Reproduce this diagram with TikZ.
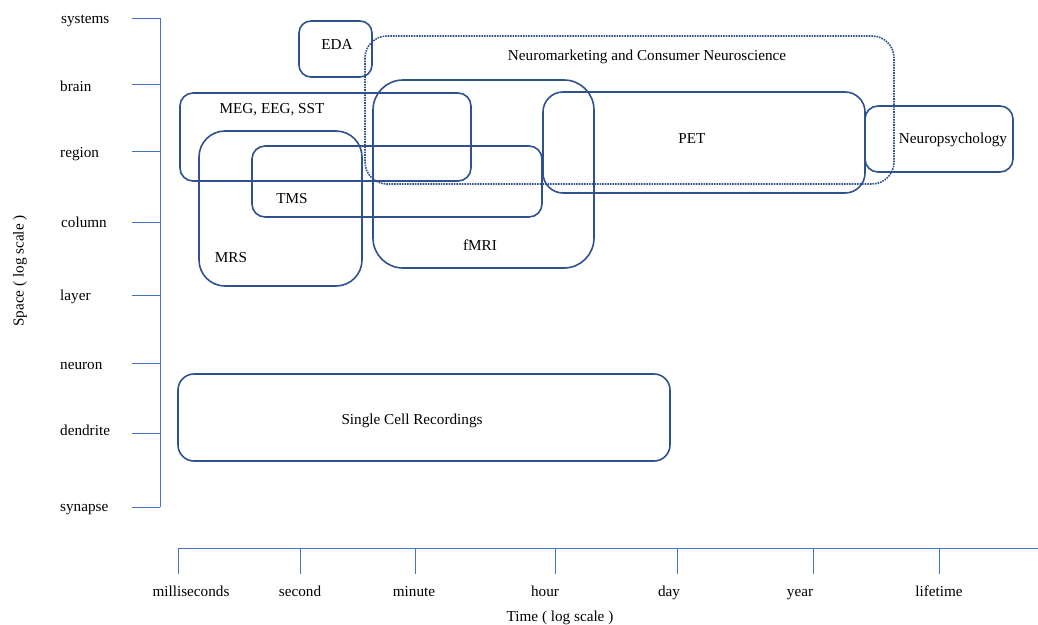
\documentclass[tikz,border=0pt]{standalone}
\usepackage{fontspec}
\setmainfont{Liberation Serif}
\usetikzlibrary{positioning}
\definecolor{axisblue}{RGB}{68,114,196}
\definecolor{boxblue}{RGB}{47,82,143}
\tikzset{
  axisline/.style={axisblue, line width=1pt},
  method/.style={boxblue, line width=1.6pt},
  field/.style={boxblue, line width=1.6pt, densely dotted},
  lbl/.style={font=\fontsize{15.2}{18}\selectfont, inner sep=0pt, anchor=base},
}
\begin{document}
\begin{tikzpicture}[x=1pt,y=-1pt]
    \useasboundingbox (0,0) rectangle (1038,624);

    % space axis
    \draw[axisline] (160,18) -- (160,507);
    \draw[axisline] (132,18) -- (160,18);
    \draw[axisline] (132,84) -- (160,84);
    \draw[axisline] (132,151) -- (160,151);
    \draw[axisline] (132,222) -- (160,222);
    \draw[axisline] (132,295) -- (160,295);
    \draw[axisline] (132,363) -- (160,363);
    \draw[axisline] (132,433) -- (160,433);
    \draw[axisline] (132,507) -- (160,507);
    \node[lbl, anchor=base west] (systems) at (61,23) {systems};
    \node[lbl, anchor=base west] (brain) at (60,91) {brain};
    \node[lbl, anchor=base west] (region) at (60,157) {region};
    \node[lbl, anchor=base west] (column) at (61,227) {column};
    \node[lbl, anchor=base west] (layer) at (60,300) {layer};
    \node[lbl, anchor=base west] (neuron) at (60,369) {neuron};
    \node[lbl, anchor=base west] (dendrite) at (60,435) {dendrite};
    \node[lbl, anchor=base west] (synapse) at (60,511) {synapse};
    \node[lbl, anchor=center, rotate=90] (spacetitle) at (20,271) {Space ( log scale )};

    % time axis
    \draw[axisline] (178,548) -- (1038,548);
    \draw[axisline] (178,548) -- (178,574);
    \draw[axisline] (300,548) -- (300,574);
    \draw[axisline] (415,548) -- (415,574);
    \draw[axisline] (555,548) -- (555,574);
    \draw[axisline] (677,548) -- (677,574);
    \draw[axisline] (813,548) -- (813,574);
    \draw[axisline] (939,548) -- (939,574);
    \node[lbl] (msec) at (191,596) {milliseconds};
    \node[lbl] (second) at (300,596) {second};
    \node[lbl] (minute) at (414,596) {minute};
    \node[lbl] (hour) at (545,596) {hour};
    \node[lbl] (day) at (669,596) {day};
    \node[lbl] (year) at (800,596) {year};
    \node[lbl] (lifetime) at (939,596) {lifetime};
    \node[lbl] (timetitle) at (560,621) {Time ( log scale )};

    % methods
    \draw[field, rounded corners=22] (365,36) rectangle (894,184);
    \node[lbl] (neuromkt) at (647,60) {Neuromarketing and Consumer Neuroscience};

    \draw[method, rounded corners=12] (299,21) rectangle (372,77);
    \node[lbl] (eda) at (337,49) {EDA};

    \draw[method, rounded corners=13] (180,93) rectangle (471,181);
    \node[lbl] (meg) at (272,113) {MEG, EEG, SST};

    \draw[method, rounded corners=26] (199,131) rectangle (362,286);
    \node[lbl] (mrs) at (231,262) {MRS};

    \draw[method, rounded corners=13] (252,146) rectangle (542,217);
    \node[lbl] (tms) at (292,203) {TMS};

    \draw[method, rounded corners=30] (373,80) rectangle (594,268);
    \node[lbl] (fmri) at (480,250) {fMRI};

    \draw[method, rounded corners=20] (543,92) rectangle (865,193);
    \node[lbl] (pet) at (692,143) {PET};

    \draw[method, rounded corners=13] (865,106) rectangle (1013,172);
    \node[lbl] (npsy) at (953,143) {Neuropsychology};

    \draw[method, rounded corners=16] (178,374) rectangle (670,461);
    \node[lbl] (scr) at (412,424) {Single Cell Recordings};
\end{tikzpicture}
\end{document}
